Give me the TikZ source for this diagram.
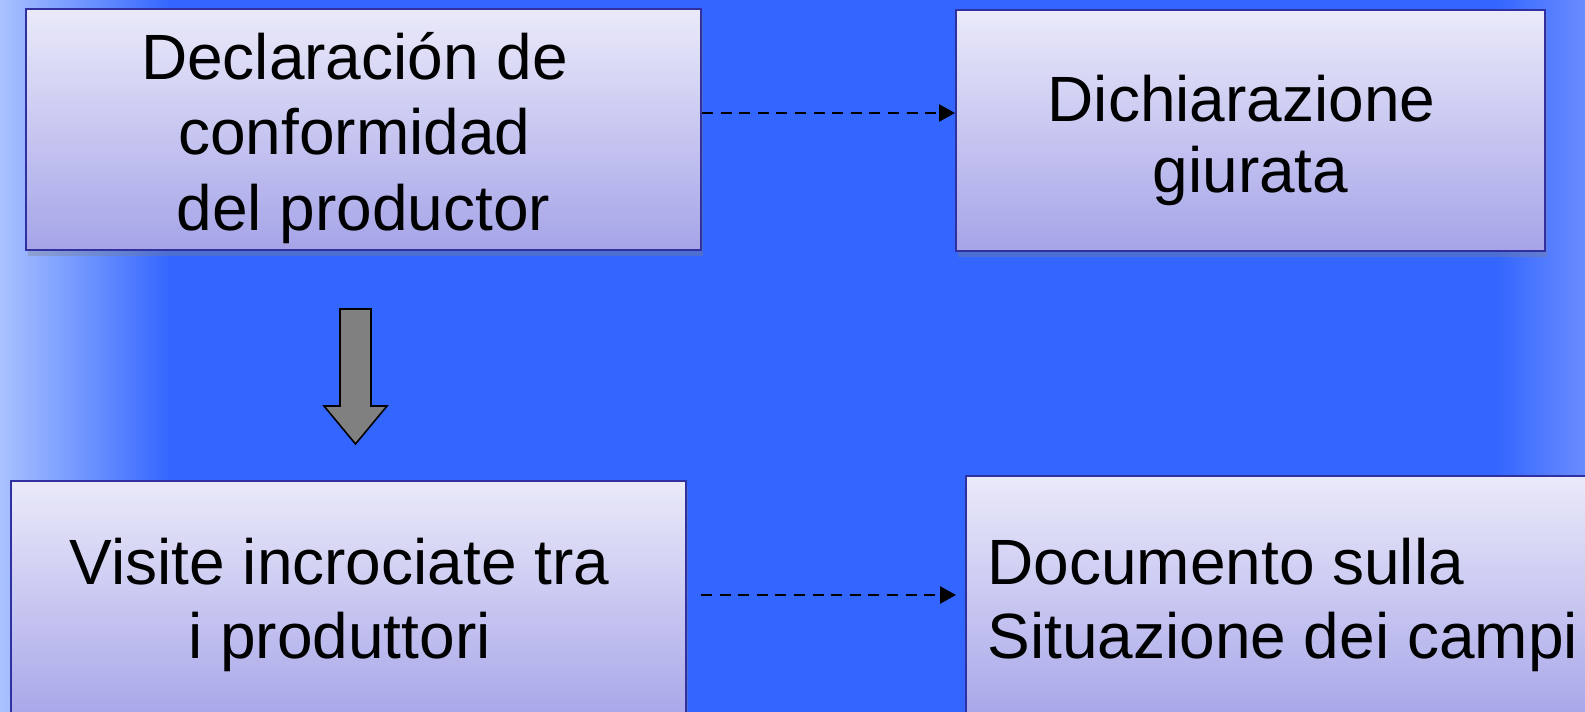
\documentclass[tikz,border=0pt]{standalone}
\usepackage{fontspec}
\setmainfont{Liberation Sans}
\usetikzlibrary{arrows.meta,calc,shadows}
\definecolor{bgblue}{RGB}{51,102,255}
\definecolor{bgleft}{RGB}{170,194,255}
\definecolor{bgright}{RGB}{106,140,255}
\definecolor{boxtop}{RGB}{234,234,250}
\definecolor{boxbot}{RGB}{166,164,232}
\definecolor{boxline}{RGB}{48,48,160}
\definecolor{arrowgrey}{RGB}{128,128,128}
\begin{document}
\begin{tikzpicture}[x=0.5pt,y=-0.5pt,
  box/.style={rectangle, draw=boxline, line width=1pt, top color=boxtop, bottom color=boxbot, inner sep=0pt,
    drop shadow={shadow xshift=1pt, shadow yshift=-3pt, fill=black!50, opacity=0.35}},
  txt/.style={font=\fontsize{32pt}{38pt}\selectfont, text=black, inner sep=0pt, anchor=base},
  dasharrow/.style={draw=black, line width=1.3pt, dash pattern=on 5.5pt off 3.8pt, -{Triangle[length=8pt,width=8.5pt]}},
  blockarrow/.style={fill=arrowgrey, draw=black, line width=0.8pt, line join=miter}
]
\useasboundingbox (0,0) rectangle (1585,712);
\clip (0,0) rectangle (1585,712);
% background
\fill[bgblue] (0,0) rectangle (1585,712);
\shade[left color=bgleft, right color=bgblue] (0,0) rectangle (170,712);
\shade[left color=bgblue, right color=bgright] (1495,0) rectangle (1585,712);
% boxes
\node[box, minimum width=337.5pt, minimum height=120.5pt] (a) at (363.5,129.5) {};
\node[box, minimum width=294.5pt, minimum height=120.5pt] (b) at (1250.5,130.5) {};
\node[box, minimum width=337.5pt, minimum height=122pt] (c) at (348.5,603) {};
\node[box, minimum width=322pt, minimum height=124.5pt] (d) at (1288,600.5) {};
% texts
\node[txt] (a1) at (354.5,79) {Declaración de};
\node[txt] (a2) at (354.5,154) {conformidad};
\node[txt] (a3) at (363.5,230) {del productor};
\node[txt] (b1) at (1241.5,121) {Dichiarazione};
\node[txt] (b2) at (1250.5,192) {giurata};
\node[txt] (c1) at (339.5,584) {Visite incrociate tra};
\node[txt] (c2) at (339.5,658) {i produttori};
\node[txt, anchor=base west] (d1) at (987,584) {Documento sulla};
\node[txt, anchor=base west] (d2) at (987,658) {Situazione dei campi};
% dashed connectors
\draw[dasharrow] ([yshift=8.25pt]a.east) -- ([yshift=8.25pt]a.east -| b.west);
\draw[dasharrow] ($(c.north east)+(14,115)$) -- ($(d.north west)+(-9,120)$);
% block arrow
\draw[blockarrow] (340,309) -- (371,309) -- (371,406) -- (387,406) -- (355.5,444) -- (324,406) -- (340,406) -- cycle;
\end{tikzpicture}
\end{document}
